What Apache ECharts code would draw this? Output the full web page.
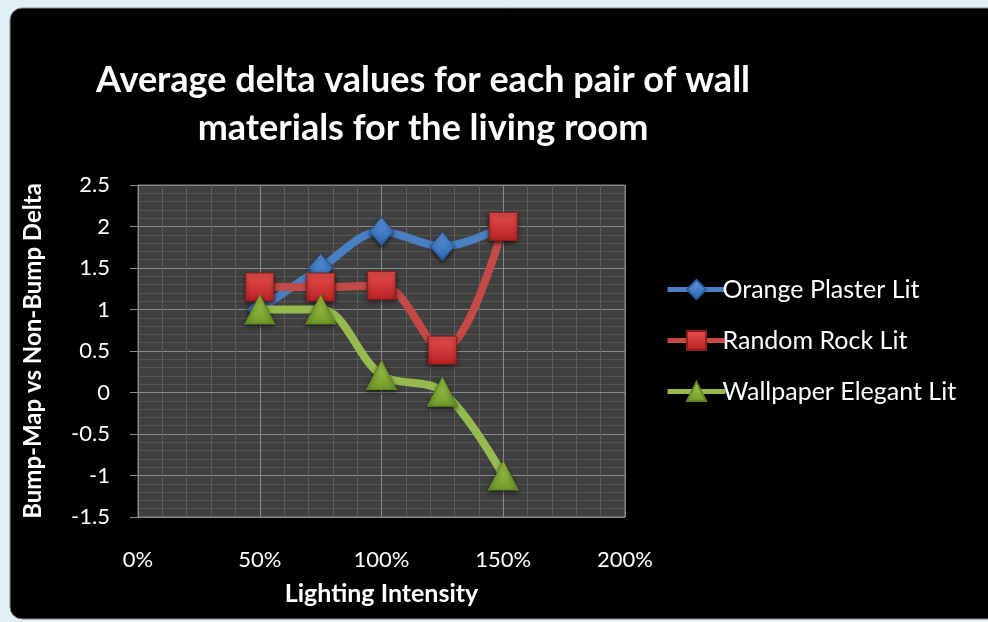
<!DOCTYPE html>
<html>
<head>
<meta charset="utf-8">
<script src="https://cdn.jsdelivr.net/npm/echarts@6/dist/echarts.min.js"></script>
<style>
html,body{margin:0;padding:0;background:#e3f0f3;}
#chart{width:988px;height:622px;}
</style>
</head>
<body>
<div id="chart"></div>
<script>
var titleText = 'Average delta values for each pair of wall\nmaterials for the living room';
var xAxisName = 'Lighting Intensity';
var yAxisName = 'Bump-Map vs Non-Bump Delta';
var seriesNames = ['Orange Plaster Lit', 'Random Rock Lit', 'Wallpaper Elegant Lit'];
var intensity = [0.5, 0.75, 1.0, 1.25, 1.5];
var orangePlaster = [1.0, 1.5, 1.94, 1.76, 2.0];
var randomRock = [1.27, 1.27, 1.29, 0.51, 2.0];
var wallpaperElegant = [1.0, 1.0, 0.21, 0.01, -1.0];

function pairs(xs, ys){ return xs.map(function(x,i){ return [x, ys[i]]; }); }

var FONT = 'Lato, "Open Sans", sans-serif';
var chart = echarts.init(document.getElementById('chart'), null, {renderer:'canvas'});

function grad(top, bottom){
  return new echarts.graphic.LinearGradient(0,0,0,1,[{offset:0,color:top},{offset:1,color:bottom}]);
}

var option = {
  backgroundColor: 'transparent',
  animation: false,
  graphic: [{
    type: 'rect', z: -10, silent: true,
    shape: {x: 10, y: 8, width: 990, height: 611, r: [12, 0, 0, 12]},
    style: {fill: '#000000', stroke: '#7a8a8c', lineWidth: 1}
  }],
  title: {
    text: titleText,
    left: 418, top: 51, textAlign: 'center',
    textStyle: {color: '#ffffff', fontFamily: FONT, fontWeight: 'bold', fontSize: 36, lineHeight: 48}
  },
  legend: {
    orient: 'vertical',
    left: 660, top: 272,
    itemWidth: 58, itemHeight: 24, itemGap: 26,
    lineStyle: {width: 5},
    textStyle: {color: '#ffffff', fontFamily: FONT, fontSize: 25, padding: [0,0,0,-8]},
    data: seriesNames
  },
  grid: {
    left: 138, right: 363, top: 185, bottom: 105,
    show: true, backgroundColor: '#404040', borderColor: '#808080', borderWidth: 1
  },
  xAxis: {
    type: 'value', min: 0, max: 2, interval: 0.5,
    name: xAxisName, nameLocation: 'middle', nameGap: 64,
    nameTextStyle: {color: '#ffffff', fontFamily: FONT, fontWeight: 'bold', fontSize: 25},
    axisLine: {show: true, lineStyle: {color: '#8c8c8c'}},
    axisTick: {show: false},
    axisLabel: {color: '#ffffff', fontFamily: FONT, fontSize: 22, margin: 32,
      formatter: function(v){ return Math.round(v*100) + '%'; }},
    splitLine: {show: true, lineStyle: {color: '#8a8a8a', width: 1}},
    minorTick: {show: false, splitNumber: 5},
    minorSplitLine: {show: true, lineStyle: {color: '#5c5c5c', width: 1}}
  },
  yAxis: {
    type: 'value', min: -1.5, max: 2.5, interval: 0.5,
    name: yAxisName, nameLocation: 'middle', nameGap: 93, nameRotate: 90,
    nameTextStyle: {color: '#ffffff', fontFamily: FONT, fontWeight: 'bold', fontSize: 24},
    axisLine: {show: true, lineStyle: {color: '#8c8c8c'}},
    axisTick: {show: true, inside: false, length: 8, lineStyle: {color: '#8c8c8c'}},
    axisLabel: {color: '#ffffff', fontFamily: FONT, fontSize: 22, margin: 28},
    splitLine: {show: true, lineStyle: {color: '#8a8a8a', width: 1}},
    minorTick: {show: false, splitNumber: 5},
    minorSplitLine: {show: true, lineStyle: {color: '#555555', width: 1}}
  },
  series: [
    {
      name: seriesNames[0], type: 'line', smooth: 0.35,
      data: pairs(intensity, orangePlaster),
      symbol: 'diamond', symbolSize: [24, 28],
      lineStyle: {color: '#4a7fc4', width: 8},
      itemStyle: {color: grad('#5c9ae0', '#2d64b0'), borderColor: '#2a5a9a', borderWidth: 1,
        shadowColor: 'rgba(0,0,0,0.6)', shadowBlur: 4, shadowOffsetY: 2},
      z: 2
    },
    {
      name: seriesNames[1], type: 'line', smooth: 0.35,
      data: pairs(intensity, randomRock),
      symbol: 'rect', symbolSize: [28, 28],
      lineStyle: {color: '#c44a47', width: 8},
      itemStyle: {color: grad('#e8504c', '#b82225'), borderColor: '#8e1e1e', borderWidth: 1,
        shadowColor: 'rgba(0,0,0,0.6)', shadowBlur: 4, shadowOffsetY: 2},
      z: 3
    },
    {
      name: seriesNames[2], type: 'line', smooth: 0.35,
      data: pairs(intensity, wallpaperElegant),
      symbol: 'triangle', symbolSize: [30, 29],
      lineStyle: {color: '#96ba4e', width: 8},
      itemStyle: {color: grad('#a4cc4c', '#6f9a2a'), borderColor: '#5f8424', borderWidth: 1,
        shadowColor: 'rgba(0,0,0,0.6)', shadowBlur: 4, shadowOffsetY: 2},
      z: 4
    }
  ]
};
chart.setOption(option);
</script>
</body>
</html>
